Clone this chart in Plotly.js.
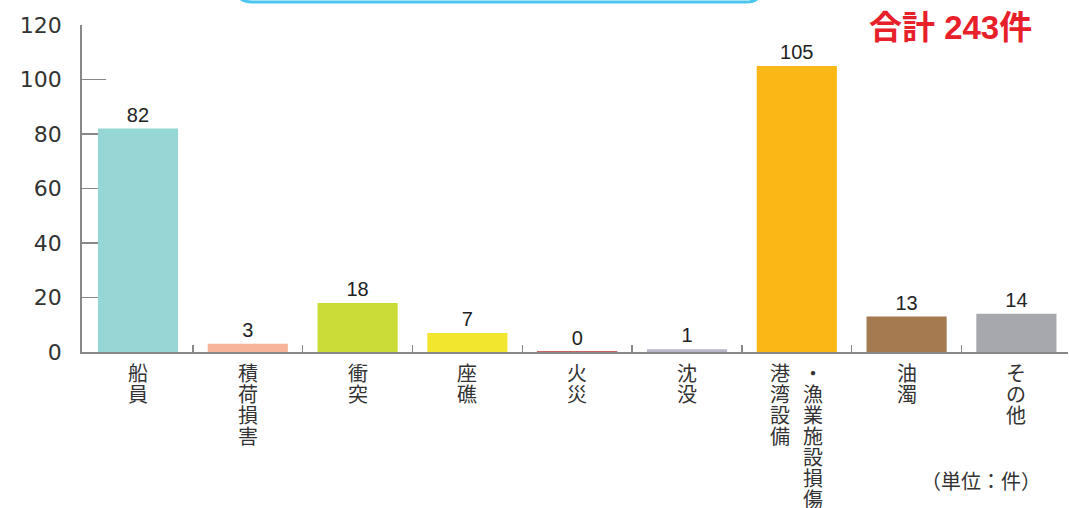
<!DOCTYPE html>
<html>
<head>
<meta charset="utf-8">
<script src="https://cdn.plot.ly/plotly-3.0.1.min.js"></script>
<style>
html,body{margin:0;padding:0;background:#fff;}
#chart{width:1069px;height:508px;}
</style>
</head>
<body>
<div id="chart"></div>
<script>
const categories = ['船員','積荷損害','衝突','座礁','火災','沈没','港湾設備・漁業施設損傷','油濁','その他'];
// how each label is stacked vertically (columns, left to right)
const labelColumns = [['船員'],['積荷損害'],['衝突'],['座礁'],['火災'],['沈没'],['港湾設備','・漁業施設損傷'],['油濁'],['その他']];
const values = [82, 3, 18, 7, 0, 1, 105, 13, 14];
const barColors = ['#96D6D5','#F8B49A','#CADC37','#F2E72E','#B5302F','#B9B5C9','#FBB716','#A67A50','#A7A8AD'];
const yTicks = [0, 20, 40, 60, 80, 100, 120];
const totalLabel = '合計 243件';
const unitLabel = '（単位：件）';

const plotL = 82, plotR = 1068, plotT = 25, plotB = 352;
const pw = plotR - plotL, ph = plotB - plotT;
const px = v => (v - plotL) / pw;
const py = v => (plotB - v) / ph;

const trace = {
  type: 'bar',
  x: categories.map((c, i) => i),
  y: values,
  width: 0.73,
  marker: {
    color: barColors,
    line: {color: barColors, width: values.map(v => v === 0 ? 1 : 0)}
  },
  text: values.map(String),
  textposition: 'outside',
  cliponaxis: false,
  textfont: {family: 'Liberation Sans, Arial, sans-serif', size: 20, color: '#222'},
  hoverinfo: 'skip'
};

const annotations = [];
const charPitch = 21;
labelColumns.forEach((cols, i) => {
  const n = cols.length;
  cols.forEach((col, ci) => {
    const xs = n === 1 ? 0 : (ci === 0 ? -17 : 16);
    Array.from(col).forEach((ch, k) => {
      annotations.push({
        xref: 'x', yref: 'paper', x: i, y: 0,
        xanchor: 'center', yanchor: 'top',
        xshift: xs, yshift: -(4 + k * charPitch),
        text: ch, showarrow: false,
        font: {family: 'Noto Sans CJK JP, sans-serif', size: 20, color: '#333'}
      });
    });
  });
});
annotations.push({
  xref: 'paper', yref: 'paper', x: px(1034), y: py(27),
  xanchor: 'right', yanchor: 'middle',
  text: '<b>' + totalLabel + '</b>', showarrow: false,
  font: {family: 'Liberation Sans, Noto Sans CJK JP, sans-serif', size: 33, color: '#E8202A'}
});
annotations.push({
  xref: 'paper', yref: 'paper', x: px(1043), y: py(480),
  xanchor: 'right', yanchor: 'middle',
  text: unitLabel, showarrow: false,
  font: {family: 'Noto Sans CJK JP, sans-serif', size: 20, color: '#333'}
});

const shapes = [{
  type: 'path', xref: 'paper', yref: 'paper',
  path: `M ${px(238)} ${py(-6)} Q ${px(240)} ${py(2)} ${px(252)} ${py(2)} L ${px(746)} ${py(2)} Q ${px(758)} ${py(2)} ${px(760)} ${py(-6)}`,
  line: {color: '#4CC6EE', width: 3}
}];

const layout = {
  width: 1069, height: 508,
  margin: {l: plotL, r: 1069 - plotR, t: plotT, b: 508 - plotB, pad: 0},
  paper_bgcolor: '#fff', plot_bgcolor: '#fff',
  showlegend: false,
  xaxis: {
    range: [-0.51, 8.47],
    tickmode: 'array', tickvals: categories.slice(1).map((c, i) => i + 0.5),
    showticklabels: false,
    ticks: 'inside', ticklen: 7, tickcolor: '#888', tickwidth: 1.2,
    showline: true, linecolor: '#888', linewidth: 1.8,
    showgrid: false, zeroline: false, fixedrange: true,
    layer: 'below traces'
  },
  yaxis: {
    range: [0, 120],
    tickmode: 'array', tickvals: yTicks, ticktext: yTicks.map(String),
    ticks: 'inside', ticklen: 24, tickcolor: '#888', tickwidth: 1.2,
    showline: true, linecolor: '#888', linewidth: 1.8,
    showgrid: false, zeroline: false,
    ticklabelstandoff: 14,
    tickfont: {family: 'DejaVu Sans, sans-serif', size: 22, color: '#333'},
    fixedrange: true,
    layer: 'below traces'
  },
  annotations: annotations,
  shapes: shapes
};

Plotly.newPlot('chart', [trace], layout, {displayModeBar: false, staticPlot: true});
</script>
</body>
</html>
